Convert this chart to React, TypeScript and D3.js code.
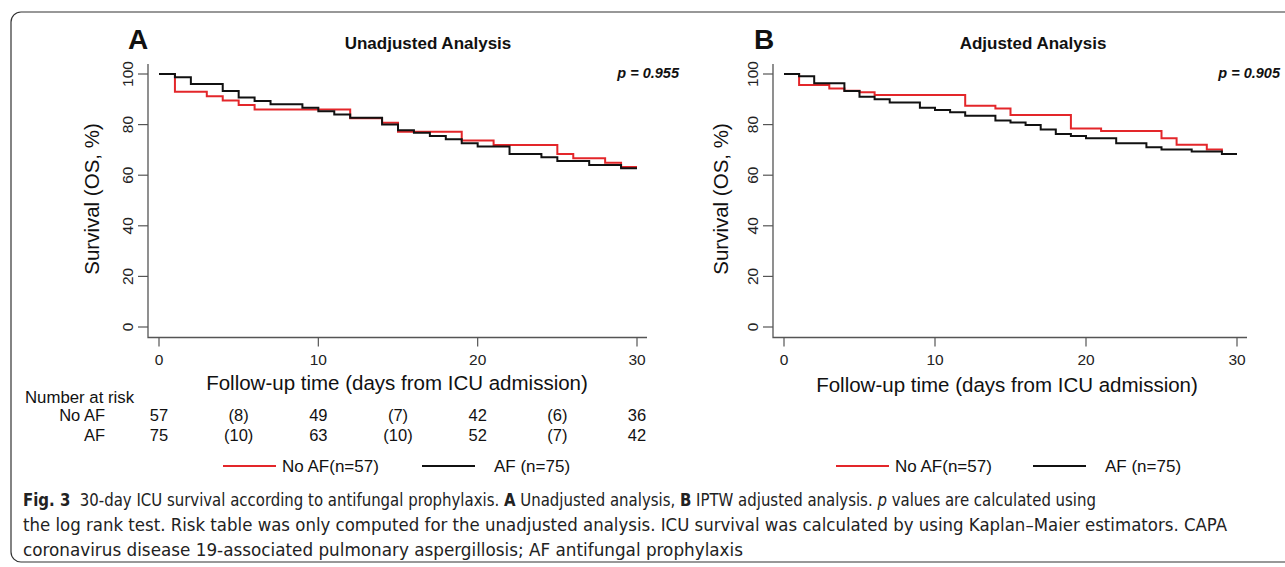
import React from "react";
import * as d3 from "d3";

// ---- Data ----
const riskTimes = [0, 5, 10, 15, 20, 25, 30];
const riskNoAF = ["57", "(8)", "49", "(7)", "42", "(6)", "36"];
const riskAF = ["75", "(10)", "63", "(10)", "52", "(7)", "42"];

const xTicks = [0, 10, 20, 30];
const yTicks = [0, 20, 40, 60, 80, 100];

// Panel A (unadjusted)
const daysA_noAF = [0, 1, 3, 4, 5, 6, 12, 14, 15, 19, 21, 25, 26, 28, 29, 30];
const survA_noAF = [100, 93.0, 91.2, 89.5, 87.7, 86.0, 82.5, 80.7, 77.2, 73.7, 71.9, 68.4, 66.7, 64.9, 63.2, 63.2];
const daysA_AF = [0, 1, 2, 4, 5, 6, 7, 9, 10, 11, 12, 14, 15, 16, 17, 18, 19, 20, 22, 24, 25, 27, 29, 30];
const survA_AF = [100, 98.7, 96.0, 93.3, 90.7, 89.3, 88.0, 86.7, 85.3, 84.0, 82.7, 80.0, 77.8, 76.8, 75.5, 74.2, 72.6, 71.3, 68.4, 67.1, 65.6, 64.0, 62.7, 62.7];

// Panel B (IPTW adjusted)
const daysB_noAF = [0, 1, 3, 4, 5, 6, 12, 14, 15, 19, 21, 25, 26, 28, 29];
const survB_noAF = [100, 95.7, 94.3, 93.4, 92.8, 91.7, 87.5, 86.4, 83.8, 78.5, 77.5, 74.6, 72.0, 70.2, 69.4];
const daysB_AF = [0, 1, 2, 4, 5, 6, 7, 9, 10, 11, 12, 14, 15, 16, 17, 18, 19, 20, 22, 24, 25, 27, 29, 30];
const survB_AF = [100, 99.1, 96.3, 93.3, 91.0, 90.0, 88.7, 86.7, 85.8, 84.9, 83.5, 81.6, 80.8, 79.8, 78.1, 76.3, 75.5, 74.6, 72.6, 71.0, 70.2, 69.4, 68.4, 68.4];

const RED = "#e3262a";
const BLACK = "#111";
const AXIS = "#555";
const FONT = "'Liberation Sans', Arial, sans-serif";
const CAP_FONT = "'Liberation Sans Narrow', 'DejaVu Sans Condensed', 'Liberation Sans', sans-serif";

type PanelProps = {
  letter: string;
  title: string;
  pText: string;
  x0: number;
  x30: number;
  axisLeft: number;
  axisRight: number;
  titleX: number;
  letterX: number;
  pX: number;
  yLabelX: number;
  xLabelX: number;
  xLabelY: number;
  noAF: [number[], number[]];
  af: [number[], number[]];
  legendRed: number;
  legendBlack: number;
};

function Panel(p: PanelProps) {
  const x = d3.scaleLinear().domain([0, 30]).range([p.x0, p.x30]);
  const y = d3.scaleLinear().domain([0, 100]).range([327, 74]);
  const axisY = 337.5;
  const line = d3
    .line<[number, number]>()
    .x((d) => x(d[0]))
    .y((d) => y(d[1]))
    .curve(d3.curveStepAfter);
  const pts = (s: [number[], number[]]) => s[0].map((t, i) => [t, s[1][i]] as [number, number]);
  return (
    <g>
      <text x={p.letterX} y={49} fontFamily={FONT} fontWeight="bold" fontSize={28} fill="#111">
        {p.letter}
      </text>
      <text x={p.titleX} y={49} fontFamily={FONT} fontWeight="bold" fontSize={17} textAnchor="middle" fill="#111">
        {p.title}
      </text>
      <text x={p.pX} y={78} fontFamily={FONT} fontWeight="bold" fontStyle="italic" fontSize={14.5} textAnchor="end" fill="#111">
        {p.pText}
      </text>
      {/* axes */}
      <path
        d={`M${p.axisLeft},64 V${axisY} H${p.axisRight}`}
        fill="none"
        stroke={AXIS}
        strokeWidth={1.3}
      />
      {yTicks.map((t) => (
        <g key={"y" + t}>
          <line x1={p.axisLeft - 10} x2={p.axisLeft} y1={y(t)} y2={y(t)} stroke={AXIS} strokeWidth={1.2} />
          <text
            transform={`translate(${p.axisLeft - 15},${y(t)}) rotate(-90)`}
            textAnchor="middle"
            fontFamily={FONT}
            fontSize={15.5}
            fill="#222"
          >
            {t}
          </text>
        </g>
      ))}
      {xTicks.map((t) => (
        <g key={"x" + t}>
          <line x1={x(t)} x2={x(t)} y1={axisY} y2={axisY + 9} stroke={AXIS} strokeWidth={1.2} />
          <text x={x(t)} y={365} textAnchor="middle" fontFamily={FONT} fontSize={15.5} fill="#222">
            {t}
          </text>
        </g>
      ))}
      <text
        transform={`translate(${p.yLabelX},199) rotate(-90)`}
        textAnchor="middle"
        fontFamily={FONT}
        fontSize={20.5}
        fill="#111"
      >
        Survival (OS, %)
      </text>
      <text x={p.xLabelX} y={p.xLabelY} textAnchor="middle" fontFamily={FONT} fontSize={20.5} fill="#111">
        Follow-up time (days from ICU admission)
      </text>
      {/* curves */}
      <path d={line(pts(p.noAF)) || ""} fill="none" stroke={RED} strokeWidth={2} />
      <path d={line(pts(p.af)) || ""} fill="none" stroke={BLACK} strokeWidth={2} />
      {/* legend */}
      <line x1={p.legendRed} x2={p.legendRed + 53} y1={466} y2={466} stroke={RED} strokeWidth={2} />
      <text x={p.legendRed + 59} y={472} fontFamily={FONT} fontSize={17} fill="#111">
        No AF(n=57)
      </text>
      <line x1={p.legendBlack} x2={p.legendBlack + 53} y1={466} y2={466} stroke={BLACK} strokeWidth={2} />
      <text x={p.legendBlack + 72} y={472} fontFamily={FONT} fontSize={17} fill="#111">
        AF (n=75)
      </text>
    </g>
  );
}

export default function App() {
  const xA = d3.scaleLinear().domain([0, 30]).range([159, 637]);
  return (
    <svg
      width={1285}
      height={567}
      viewBox="0 0 1285 567"
      style={{ position: "absolute", left: 0, top: 0, display: "block", background: "#fff" }}
    >
      <rect x={0} y={0} width={1285} height={567} fill="#fff" />
      <rect x={11} y={12} width={1300} height={550} rx={10} fill="none" stroke="#333" strokeWidth={1.2} />
      <Panel
        letter="A"
        title="Unadjusted Analysis"
        pText="p = 0.955"
        x0={159}
        x30={637}
        axisLeft={148}
        axisRight={647}
        titleX={428}
        letterX={128}
        pX={679}
        yLabelX={99}
        xLabelX={397}
        xLabelY={390}
        noAF={[daysA_noAF, survA_noAF]}
        af={[daysA_AF, survA_AF]}
        legendRed={223}
        legendBlack={422}
      />
      <Panel
        letter="B"
        title="Adjusted Analysis"
        pText="p = 0.905"
        x0={784}
        x30={1237}
        axisLeft={773}
        axisRight={1247}
        titleX={1033}
        letterX={754}
        pX={1280}
        yLabelX={728}
        xLabelX={1007}
        xLabelY={392}
        noAF={[daysB_noAF, survB_noAF]}
        af={[daysB_AF, survB_AF]}
        legendRed={836}
        legendBlack={1033}
      />
      {/* risk table */}
      <text x={25} y={403} fontFamily={FONT} fontSize={16.8} fill="#111">
        Number at risk
      </text>
      <text x={105} y={421} textAnchor="end" fontFamily={FONT} fontSize={16.5} fill="#111">
        No AF
      </text>
      <text x={105} y={441} textAnchor="end" fontFamily={FONT} fontSize={16.5} fill="#111">
        AF
      </text>
      {riskTimes.map((t, i) => (
        <g key={"r" + t}>
          <text x={xA(t)} y={421} textAnchor="middle" fontFamily={FONT} fontSize={16.5} fill="#111">
            {riskNoAF[i]}
          </text>
          <text x={xA(t)} y={441} textAnchor="middle" fontFamily={FONT} fontSize={16.5} fill="#111">
            {riskAF[i]}
          </text>
        </g>
      ))}
      {/* caption */}
      <text transform="translate(23,506) scale(0.95,1)" x={0} y={0} fontFamily={CAP_FONT} fontSize={17.5} fill="#222">
        <tspan fontWeight="bold">Fig. 3</tspan>
        <tspan>{"\u00a0 30-day ICU survival according to antifungal prophylaxis. "}</tspan>
        <tspan fontWeight="bold">A</tspan>
        <tspan>{" Unadjusted analysis, "}</tspan>
        <tspan fontWeight="bold">B</tspan>
        <tspan>{" IPTW adjusted analysis. "}</tspan>
        <tspan fontStyle="italic">p</tspan>
        <tspan>{" values are calculated using"}</tspan>
      </text>
      <text x={23} y={531} fontFamily={CAP_FONT} fontSize={17.5} fill="#222" textLength={1204} lengthAdjust="spacingAndGlyphs">
        the log rank test. Risk table was only computed for the unadjusted analysis. ICU survival was calculated by using Kaplan–Maier estimators. CAPA
      </text>
      <text x={23} y={556} fontFamily={CAP_FONT} fontSize={17.5} fill="#222" textLength={720} lengthAdjust="spacingAndGlyphs">
        coronavirus disease 19-associated pulmonary aspergillosis; AF antifungal prophylaxis
      </text>
    </svg>
  );
}
